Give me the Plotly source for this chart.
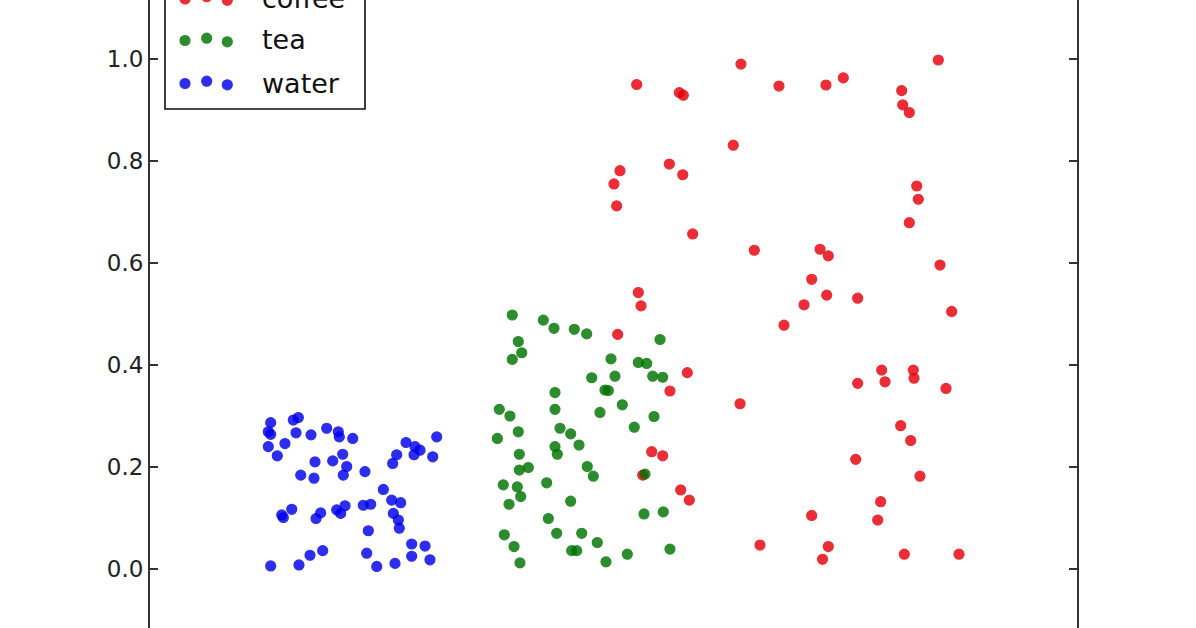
import plotly.graph_objects as go

# scatter data (x in arbitrary units, y)
water_x = [1.302, 1.276, 1.302, 1.276, 1.373, 1.456, 1.546, 1.600, 1.575, 1.737,
           1.906, 2.031, 2.042, 2.187, 2.079, 1.971, 1.780, 2.122, 2.085, 1.626,
           1.769, 2.319, 2.517, 2.762, 2.859, 2.913, 2.848, 2.661, 2.618, 3.093,
           3.050, 1.421, 1.438, 1.529, 1.791, 1.841, 2.014, 2.057, 2.104, 2.301,
           2.381, 2.607, 2.704, 2.625, 2.679, 2.689, 2.355, 2.823, 2.967, 2.823,
           3.020, 2.643, 2.446, 2.338, 1.863, 1.726, 1.607, 1.302]
water_y = [0.287, 0.269, 0.264, 0.240, 0.222, 0.246, 0.292, 0.297, 0.267, 0.263,
           0.276, 0.269, 0.259, 0.256, 0.225, 0.212, 0.210, 0.201, 0.184, 0.184,
           0.178, 0.191, 0.156, 0.248, 0.240, 0.233, 0.224, 0.224, 0.207, 0.259,
           0.220, 0.106, 0.101, 0.117, 0.099, 0.110, 0.116, 0.109, 0.124, 0.125,
           0.127, 0.135, 0.130, 0.109, 0.096, 0.080, 0.075, 0.049, 0.045, 0.025,
           0.018, 0.011, 0.005, 0.031, 0.036, 0.027, 0.008, 0.006]

tea_x = [3.908, 4.243, 4.358, 4.577, 4.711, 3.973, 4.010, 3.908, 4.973, 5.268,
         5.358, 5.502, 5.016, 4.765, 5.423, 5.531, 4.908, 4.944, 4.369, 4.369,
         4.854, 5.095, 3.768, 3.883, 5.437, 5.224, 3.973, 3.747, 4.423, 4.538,
         4.628, 4.369, 4.394, 3.984, 3.984, 4.081, 4.717, 4.782, 5.340, 3.811,
         3.962, 3.999, 4.279, 3.873, 4.538, 4.297, 5.329, 5.537, 3.822, 3.927,
         3.991, 4.387, 4.657, 4.825, 4.549, 4.603, 4.919, 5.149, 5.609]
tea_y = [0.498, 0.488, 0.472, 0.470, 0.461, 0.446, 0.424, 0.411, 0.412, 0.405,
         0.403, 0.450, 0.378, 0.375, 0.378, 0.376, 0.351, 0.350, 0.346, 0.313,
         0.307, 0.322, 0.313, 0.300, 0.299, 0.278, 0.269, 0.256, 0.276, 0.265,
         0.243, 0.240, 0.225, 0.225, 0.194, 0.199, 0.201, 0.182, 0.186, 0.165,
         0.161, 0.142, 0.169, 0.127, 0.133, 0.099, 0.108, 0.112, 0.067, 0.044,
         0.012, 0.070, 0.070, 0.052, 0.036, 0.036, 0.014, 0.029, 0.039]

coffee_x = [6.375, 5.250, 6.785, 5.710, 5.753, 6.292, 5.602, 5.070, 5.747, 5.005,
            5.034, 5.854, 6.519, 5.268, 8.504, 7.479, 7.292, 8.109, 8.120, 8.191,
            8.271, 8.288, 8.191, 7.228, 7.317, 8.522, 7.138, 7.300, 7.634, 5.297,
            7.055, 6.839, 5.796, 5.609, 6.365, 5.412, 5.531, 5.315, 5.725, 5.818,
            7.138, 6.580, 7.317, 7.255, 5.045, 8.648, 7.893, 7.929, 8.234, 8.242,
            7.634, 8.587, 8.098, 8.206, 7.613, 8.306, 7.882, 7.850, 8.137, 8.727]
coffee_y = [0.990, 0.950, 0.947, 0.934, 0.929, 0.831, 0.794, 0.781, 0.773, 0.755,
            0.712, 0.657, 0.625, 0.542, 0.998, 0.963, 0.949, 0.938, 0.910, 0.895,
            0.751, 0.725, 0.679, 0.627, 0.614, 0.596, 0.568, 0.537, 0.531, 0.516,
            0.518, 0.478, 0.385, 0.349, 0.324, 0.230, 0.222, 0.184, 0.155, 0.135,
            0.105, 0.047, 0.044, 0.019, 0.460, 0.505, 0.390, 0.367, 0.390, 0.374,
            0.364, 0.354, 0.281, 0.252, 0.215, 0.182, 0.132, 0.096, 0.029, 0.029]

series_names = ["coffee", "tea", "water"]
series_colors = ["rgb(230,0,10)", "rgb(0,115,0)", "rgb(0,0,235)"]
y_ticks = [0.0, 0.2, 0.4, 0.6, 0.8, 1.0]

W, H = 1196, 628
L, R = 150, 119
Y_RANGE = [-59 / 510, 569 / 510]
AXIS_COLOR = "#333333"
FONT = "DejaVu Sans"

fig = go.Figure()
for name, color, xs, ys in zip(series_names, series_colors,
                               [coffee_x, tea_x, water_x], [coffee_y, tea_y, water_y]):
    fig.add_trace(go.Scatter(
        x=xs, y=ys, mode="markers", name=name, showlegend=False,
        marker=dict(size=10, color=color, opacity=0.82, line=dict(color=color, width=1.2)),
    ))

# matplotlib-style legend box with three dots per entry
plot_w = W - L - R


def px_x(px):
    return (px - L) / plot_w


def px_y(py):
    return 1 - py / H


shapes = [dict(type="rect", xref="paper", yref="paper",
               x0=px_x(165), x1=px_x(365), y0=px_y(109), y1=px_y(-60),
               line=dict(color="#111111", width=1.6), fillcolor="white", layer="above")]
annotations = []
row_centers = [-1.5, 40, 83]
dot_x = [185, 206.7, 227.3]
dot_dy = [0.5, -1.8, 1.8]
for name, color, cy in zip(series_names, series_colors, row_centers):
    for dx, dy in zip(dot_x, dot_dy):
        shapes.append(dict(type="circle", xref="paper", yref="paper",
                           xsizemode="pixel", ysizemode="pixel",
                           xanchor=px_x(dx), yanchor=px_y(cy + dy),
                           x0=-5, x1=5, y0=-5, y1=5,
                           fillcolor=color, opacity=0.82,
                           line=dict(color=color, width=1.2), layer="above"))
    annotations.append(dict(x=px_x(260), y=px_y(cy), xref="paper", yref="paper",
                            text=name, showarrow=False, xanchor="left", yanchor="middle",
                            font=dict(family=FONT, size=27, color="#111111")))

fig.update_layout(
    width=W, height=H,
    margin=dict(l=L, r=R, t=0, b=0, pad=0),
    plot_bgcolor="white", paper_bgcolor="white",
    font=dict(family=FONT, size=23, color="#222222"),
    shapes=shapes, annotations=annotations,
    xaxis=dict(range=[0, 10], showgrid=False, zeroline=False, showline=False,
               showticklabels=False, ticks=""),
    yaxis=dict(range=Y_RANGE, showgrid=False, zeroline=False,
               showline=True, linecolor=AXIS_COLOR, linewidth=2, mirror="ticks",
               ticks="inside", ticklen=8, tickwidth=1.5, tickcolor=AXIS_COLOR,
               tickvals=y_ticks, tickformat=".1f",
               tickfont=dict(family=FONT, size=23, color="#222222")),
)

# drop the browser's default body margin so the figure sits at the window corner
fig.write_html("out.html", config={"displayModeBar": False},
               post_script="document.body.style.margin='0';")
